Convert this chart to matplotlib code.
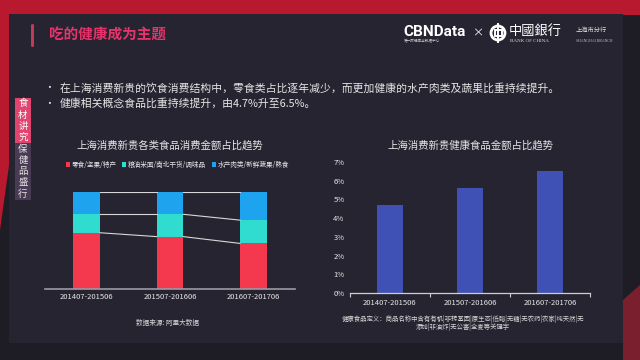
import matplotlib
matplotlib.use('Agg')
import matplotlib.pyplot as plt
import matplotlib.patches as patches
import numpy as np

plt.rcParams['font.family'] = ['Noto Sans CJK SC', 'DejaVu Sans']

# data
periods = ['201407-201506', '201507-201606', '201607-201706']
snack_share = [58, 54, 47]      # 零食/坚果/特产
grain_share = [19, 23, 24]      # 粮油米面/南北干货/调味品
fresh_share = [23, 23, 29]      # 水产肉类/新鲜蔬果/熟食
series_names = ['零食/坚果/特产', '粮油米面/南北干货/调味品', '水产肉类/新鲜蔬果/熟食']
health_share = [4.7, 5.6, 6.5]  # 健康食品金额占比 (%)
y_ticks = [0, 1, 2, 3, 4, 5, 6, 7]

RED = '#f4384e'
TEAL = '#30dccf'
BLUE = '#1ea3ee'
INDIGO = '#3f51b5'
PANEL = '#262431'
TXT = '#e6e6e6'

fig = plt.figure(figsize=(6.4, 3.6), dpi=100)
fig.patch.set_facecolor('#1e1d26')

# background / decorations in pixel coords
bg = fig.add_axes([0, 0, 1, 1])
bg.set_xlim(0, 640)
bg.set_ylim(360, 0)
bg.axis('off')

bg.add_patch(patches.Rectangle((0, 0), 640, 15, color='#b8192e', lw=0))
bg.add_patch(patches.Polygon([(0, 0), (14, 0), (14, 130), (0, 230)], color='#b8192e', lw=0))
bg.add_patch(patches.Polygon([(623, 300), (640, 285), (640, 360), (623, 360)], color='#7a1f2e', lw=0))
bg.add_patch(patches.Rectangle((9, 14), 614, 329, color=PANEL, lw=0))

# header
bg.add_patch(patches.FancyBboxPatch((31, 24), 3, 23, boxstyle='round,pad=0,rounding_size=1.5',
                                    color='#c23a5a', lw=0))
bg.text(49, 34, '吃的健康成为主题', color='#e8336a', fontsize=10.5, fontweight='bold',
        va='center', ha='left')

bg.text(403, 32, 'CBNData', color='white', fontsize=11, fontweight='bold', va='center',
        ha='left', family=['Roboto', 'DejaVu Sans'])
bg.text(404, 41.5, '第一财经商业数据中心', color='#cccccc', fontsize=2.6, va='center', ha='left')
bg.text(478, 33, '×', color='white', fontsize=8, va='center', ha='center')
bg.add_patch(patches.Circle((498, 33), 7, fill=False, ec='white', lw=2))
bg.add_patch(patches.Rectangle((494.5, 30), 7, 6, fill=False, ec='white', lw=1.4))
bg.plot([498, 498], [24, 42], color='white', lw=1.4)
bg.text(509, 31, '中國銀行', color='white', fontsize=9.5, va='center', ha='left',
        family=['Noto Sans CJK TC', 'DejaVu Sans'])
bg.text(510, 41, 'BANK OF CHINA', color='#dddddd', fontsize=3.6, va='center', ha='left',
        family=['Liberation Serif', 'DejaVu Serif'])
bg.text(576, 30, '上海市分行', color='#dddddd', fontsize=4.5, va='center', ha='left')
bg.text(576, 41, 'SHANGHAI BRANCH', color='#bbbbbb', fontsize=2.8, va='center', ha='left',
        family=['Liberation Serif', 'DejaVu Serif'])

# bullets
bg.text(49, 88, '•', color=TXT, fontsize=7, va='center', ha='center')
bg.text(60, 88, '在上海消费新贵的饮食消费结构中，零食类占比逐年减少，而更加健康的水产肉类及蔬果比重持续提升。',
        color=TXT, fontsize=7.8, va='center', ha='left')
bg.text(49, 104, '•', color=TXT, fontsize=7, va='center', ha='center')
bg.text(60, 104, '健康相关概念食品比重持续提升，由4.7%升至6.5%。',
        color=TXT, fontsize=7.8, va='center', ha='left')

# side labels
bg.add_patch(patches.Rectangle((15, 98), 16, 45, color='#e0456f', lw=0))
bg.add_patch(patches.Rectangle((15, 143), 16, 57, color='#4a3b55', lw=0))
for i, ch in enumerate('食材讲究'):
    bg.text(23, 104 + i * 11, ch, color='white', fontsize=6.8, ha='center', va='center')
for i, ch in enumerate('保健品盛行'):
    bg.text(23, 149 + i * 11.2, ch, color='#e6e6e6', fontsize=6.8, ha='center', va='center')

# ---------- left chart: stacked shares ----------
ax1 = fig.add_axes([45 / 640, 71 / 360, 250 / 640, 97 / 360])
ax1.set_facecolor('none')
x = np.arange(len(periods))
w = 0.32
snack = np.array(snack_share)
grain = np.array(grain_share)
fresh = np.array(fresh_share)
b1 = ax1.bar(x, snack, w, color=RED, label=series_names[0])
b2 = ax1.bar(x, grain, w, bottom=snack, color=TEAL, label=series_names[1])
b3 = ax1.bar(x, fresh, w, bottom=snack + grain, color=BLUE, label=series_names[2])
levels = [snack, snack + grain, snack + grain + fresh]
for lv in levels:
    for i in range(len(periods) - 1):
        ax1.plot([x[i] + w / 2, x[i + 1] - w / 2], [lv[i], lv[i + 1]],
                 color='#d8d8d8', lw=0.8, zorder=1)
ax1.set_xlim(-0.5, 2.5)
ax1.set_ylim(0, 100)
ax1.set_yticks([])
ax1.set_xticks(x)
ax1.set_xticklabels(periods, fontsize=5.5, color=TXT)
ax1.tick_params(axis='x', length=0, pad=3)
for s in ['top', 'right', 'left']:
    ax1.spines[s].set_visible(False)
ax1.spines['bottom'].set_color('#9a9aa6')
ax1.spines['bottom'].set_linewidth(1.2)
ax1.set_title('上海消费新贵各类食品消费金额占比趋势', fontsize=7.5, color=TXT, y=1.36)
leg = ax1.legend(handles=[b1, b2, b3], ncol=3, loc='center', bbox_to_anchor=(0.53, 1.28),
                 frameon=False, fontsize=4.8, handlelength=0.6, handleheight=0.6,
                 handletextpad=0.3, columnspacing=0.8, labelcolor=TXT)

bg.text(168, 323, '数据来源: 阿里大数据', color='#d8d8d8', fontsize=4.8, ha='center', va='center')

# ---------- right chart: health food share ----------
ax2 = fig.add_axes([350 / 640, 67 / 360, 240 / 640, 131 / 360])
ax2.set_facecolor('none')
ax2.bar(x, health_share, 0.33, color=INDIGO)
ax2.set_xlim(-0.5, 2.5)
ax2.set_ylim(0, 7)
ax2.set_yticks(y_ticks)
ax2.set_yticklabels([f'{v}%' for v in y_ticks], fontsize=5.5, color=TXT)
ax2.tick_params(axis='y', length=0, pad=4)
ax2.set_xticks(x)
ax2.set_xticklabels(periods, fontsize=5.5, color=TXT)
ax2.set_xticks([-0.5, 0.5, 1.5, 2.5], minor=True)
ax2.tick_params(axis='x', which='major', length=0, pad=4)
ax2.tick_params(axis='x', which='minor', length=3, color='#cfcfcf', width=0.8)
for s in ['top', 'right', 'left']:
    ax2.spines[s].set_visible(False)
ax2.spines['bottom'].set_color('#cfcfcf')
ax2.spines['bottom'].set_linewidth(0.9)
ax2.set_title('上海消费新贵健康食品金额占比趋势', fontsize=7.5, color=TXT, y=1.035)

bg.text(463, 319, '健康食品定义：商品名称中含有有机|非转基因|原生态|低脂|无糖|无农药|农家|纯天然|无',
        color='#d8d8d8', fontsize=4.6, ha='center', va='center')
bg.text(463, 327, '添加|非油炸|无公害|全麦等关键字',
        color='#d8d8d8', fontsize=4.6, ha='center', va='center')

fig.savefig('out.png', dpi=100, facecolor=fig.get_facecolor())
